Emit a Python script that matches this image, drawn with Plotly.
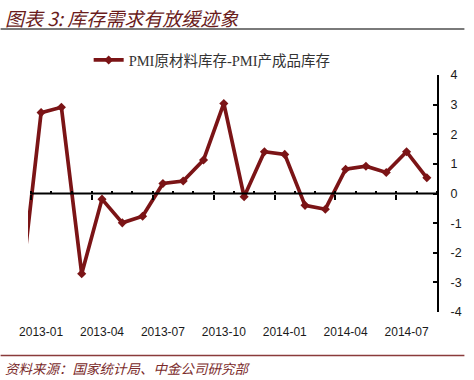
import plotly.graph_objects as go

# ---- data ----
months = ["2012-12",
          "2013-01", "2013-02", "2013-03", "2013-04", "2013-05", "2013-06",
          "2013-07", "2013-08", "2013-09", "2013-10", "2013-11", "2013-12",
          "2014-01", "2014-02", "2014-03", "2014-04", "2014-05", "2014-06",
          "2014-07", "2014-08"]
spread = [-3.3,
          2.73, 2.91, -2.71, -0.19, -0.99, -0.77,
          0.34, 0.42, 1.13, 3.04, -0.11, 1.41,
          1.32, -0.40, -0.53, 0.82, 0.92, 0.71,
          1.41, 0.53]
series_name = "PMI原材料库存-PMI产成品库存"
x_tick_months = ["2013-01", "2013-04", "2013-07", "2013-10", "2014-01", "2014-04", "2014-07"]
y_tick_vals = [-4, -3, -2, -1, 0, 1, 2, 3, 4]
y_tick_text = ["-4", "-3", "-2", "-1", "0", "1", "2", "3", "4"]
title_text = "图表 3: 库存需求有放缓迹象"
source_text = "资料来源：国家统计局、中金公司研究部"

# ---- layout geometry (pixels) ----
W, H = 474, 380
L, R, T, B = 28, 28, 75, 68
PW = W - L - R
PH = H - T - B


def px_x(x):
    return (x - L) / PW


def px_y(y):
    return (H - B - y) / PH


LINE_COLOR = "#7B1416"
x_range = [0.355, 20.5]

fig = go.Figure()
fig.add_trace(go.Scatter(
    x=months, y=spread, name=series_name, mode="lines+markers",
    line=dict(color=LINE_COLOR, width=3.7),
    marker=dict(symbol="diamond", size=7, color=LINE_COLOR),
    showlegend=True,
))

fig.update_layout(
    width=W, height=H,
    margin=dict(l=L, r=R, t=T, b=B),
    paper_bgcolor="white", plot_bgcolor="white",
    font=dict(family="Liberation Sans, Arial, sans-serif", size=12, color="#1a1a1a"),
    xaxis=dict(
        type="category", range=x_range,
        tickmode="array", tickvals=x_tick_months, ticktext=x_tick_months,
        showline=False, showgrid=False, zeroline=False, ticks="",
        ticklabelstandoff=11,
        tickfont=dict(size=12, color="#1a1a1a"),
    ),
    xaxis2=dict(
        overlaying="x", anchor="free", position=0.5, type="linear",
        range=x_range, showticklabels=False, showgrid=False, zeroline=False,
        showline=False, tick0=0.5, dtick=3, ticks="outside", ticklen=5,
        tickwidth=2, tickcolor="black",
        minor=dict(tick0=0.5, dtick=1, ticks="inside", ticklen=3, tickwidth=1.5,
                   tickcolor="black", showgrid=False),
    ),
    yaxis=dict(
        side="right", range=[-4, 4], tickmode="array",
        tickvals=y_tick_vals, ticktext=y_tick_text,
        showline=True, linecolor="black", linewidth=2,
        ticks="inside", ticklen=4, tickwidth=2, tickcolor="black",
        showgrid=False, zeroline=False, ticklabelstandoff=9,
        tickfont=dict(size=12.5, color="#1a1a1a"),
    ),
    legend=dict(
        orientation="h", x=px_x(90), y=px_y(60), xanchor="left", yanchor="middle",
        font=dict(family="Liberation Serif, Noto Sans CJK SC, serif", size=14.5, color="#333333"),
        itemwidth=30, bgcolor="rgba(0,0,0,0)",
    ),
)

# dummy invisible trace to activate xaxis2
fig.add_trace(go.Scatter(x=[x_range[0]], y=[0], xaxis="x2", yaxis="y",
                         mode="markers", marker=dict(opacity=0), showlegend=False,
                         hoverinfo="skip"))

shapes = [
    # x axis line at zero
    dict(type="line", xref="x2", yref="y", x0=0.5, x1=20.5, y0=0, y1=0,
         line=dict(color="black", width=2)),
    # title underline
    dict(type="line", xref="paper", yref="paper", x0=px_x(0), x1=px_x(W),
         y0=px_y(29), y1=px_y(29), line=dict(color="#7a7a7a", width=2)),
    # footer line
    dict(type="line", xref="paper", yref="paper", x0=px_x(0), x1=px_x(W),
         y0=px_y(355.5), y1=px_y(355.5), line=dict(color="#8a3b3b", width=1.5)),
]
fig.update_layout(shapes=shapes)

fig.add_annotation(
    text=title_text, xref="paper", yref="paper", x=px_x(2), y=px_y(17),
    xanchor="left", yanchor="middle", showarrow=False,
    font=dict(family="Noto Sans CJK SC", size=19, color="#6a1c1c", style="italic"),
)
fig.add_annotation(
    text=source_text, xref="paper", yref="paper", x=px_x(2), y=px_y(368),
    xanchor="left", yanchor="middle", showarrow=False,
    font=dict(family="Noto Sans CJK SC", size=13.5, color="#7a2a2a", style="italic"),
)

fig.write_html("out.html", config={"displayModeBar": False},
               post_script="document.body.style.margin='0';document.body.style.overflow='hidden';")
